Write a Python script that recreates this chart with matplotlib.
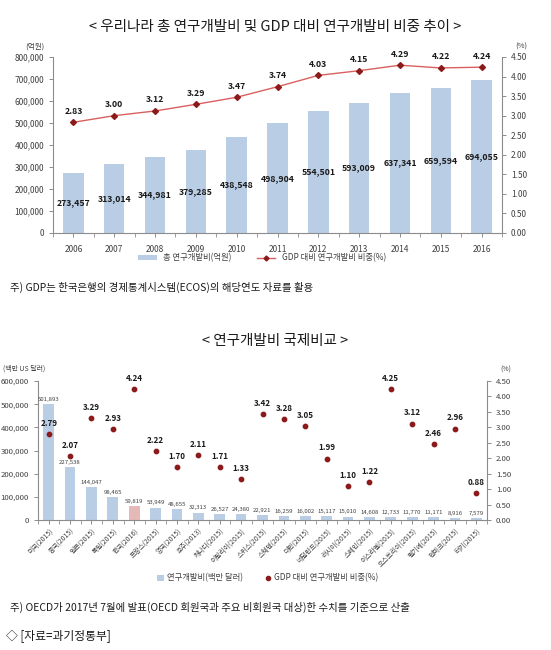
import matplotlib
matplotlib.use('Agg')
import matplotlib.pyplot as plt
from matplotlib.lines import Line2D
from matplotlib.patches import Patch

plt.rcParams['font.family'] = ['Noto Sans CJK KR', 'DejaVu Sans']

# chart 1 data: 총 연구개발비 추이
years = ['2006', '2007', '2008', '2009', '2010', '2011', '2012', '2013', '2014', '2015', '2016']
rnd_total = [273457, 313014, 344981, 379285, 438548, 498904, 554501, 593009, 637341, 659594, 694055]
rnd_gdp_ratio = [2.83, 3.00, 3.12, 3.29, 3.47, 3.74, 4.03, 4.15, 4.29, 4.22, 4.24]

# chart 2 data: 국제비교
countries = ['미국(2015)', '중국(2015)', '일본(2015)', '독일(2015)', '한국(2016)', '프랑스(2015)',
             '영국(2015)', '호주(2013)', '캐나다(2015)', '이탈리아(2015)', '스위스(2015)',
             '스웨덴(2015)', '대만(2015)', '네덜란드(2015)', '러시아(2015)', '스페인(2015)',
             '이스라엘(2015)', '오스트리아(2015)', '벨기에(2015)', '덴마크(2015)', '터키(2015)']
country_rnd = [501893, 227538, 144047, 98465, 59819, 53949, 48655, 32313, 26527, 24380, 22921,
               16259, 16002, 15117, 15010, 14608, 12733, 11770, 11171, 8916, 7579]
country_ratio = [2.79, 2.07, 3.29, 2.93, 4.24, 2.22, 1.70, 2.11, 1.71, 1.33, 3.42,
                 3.28, 3.05, 1.99, 1.10, 1.22, 4.25, 3.12, 2.46, 2.96, 0.88]

BAR = '#b9cde5'
KOREA = '#e6b9b8'
LINE = '#d9605e'
DOT = '#8b1a1a'
AX = '#8c8c8c'
TXT = '#404040'

W, H = 551, 650
fig = plt.figure(figsize=(W / 100, H / 100), dpi=100)
fig.patch.set_facecolor('white')


def px_axes(x0, y0, x1, y1):
    return fig.add_axes([x0 / W, 1 - y1 / H, (x1 - x0) / W, (y1 - y0) / H])


def style(ax, ax2):
    for a in (ax, ax2):
        a.spines['top'].set_visible(False)
        for s in ('left', 'right', 'bottom'):
            a.spines[s].set_color(AX)
            a.spines[s].set_linewidth(0.8)
        a.tick_params(colors=AX, labelcolor=TXT, labelsize=6, length=3, width=0.7)
    ax.spines['right'].set_visible(False)
    ax2.spines['left'].set_visible(False)
    ax2.spines['bottom'].set_visible(False)


# ---------------- chart 1 ----------------
fig.text(0.5, 1 - 27 / H, '< 우리나라 총 연구개발비 및 GDP 대비 연구개발비 비중 추이 >',
         ha='center', va='center', fontsize=10.5, color='#1a1a1a')

ax = px_axes(53, 57, 502, 233)
ax2 = ax.twinx()
x = range(len(years))
ax.bar(x, rnd_total, width=0.5, color=BAR, zorder=2)
for i, v in enumerate(rnd_total):
    ax.text(i, v / 2, f'{v:,}', ha='center', va='center', fontsize=6.3,
            fontweight='bold', color='#1a1a1a', zorder=4)
ax.set_ylim(0, 800000)
ax.set_yticks(range(0, 800001, 100000))
ax.set_yticklabels([f'{v:,}' for v in range(0, 800001, 100000)])
ax.set_xlim(-0.5, len(years) - 0.5)
ax.set_xticks(list(x))
ax.set_xticklabels(years)
ax.set_xticks([i + 0.5 for i in range(-1, len(years))], minor=True)
ax.tick_params(axis='x', which='major', length=0, pad=6)
ax.tick_params(axis='x', which='minor', length=3, color=AX)

ax2.plot(x, rnd_gdp_ratio, color=LINE, lw=1.0, marker='D', ms=3,
         mfc=DOT, mec=DOT, zorder=3)
for i, v in enumerate(rnd_gdp_ratio):
    ax2.text(i, v + 0.17, f'{v:.2f}', ha='center', va='bottom', fontsize=6.3,
             fontweight='bold', color='#1a1a1a')
ax2.set_ylim(0, 4.5)
ax2.set_yticks([i * 0.5 for i in range(10)])
ax2.set_yticklabels([f'{i * 0.5:.2f}' for i in range(10)])
style(ax, ax2)
ax.text(-0.02, 1.06, '(억원)', transform=ax.transAxes, ha='right', va='center',
        fontsize=5.5, color=TXT)
ax2.text(1.03, 1.06, '(%)', transform=ax2.transAxes, ha='left', va='center',
         fontsize=5.5, color=TXT)

handles = [Patch(facecolor=BAR, edgecolor='none'),
           Line2D([0], [0], color=LINE, lw=1, marker='D', ms=2.5, mfc=DOT, mec=DOT)]
fig.legend(handles, ['총 연구개발비(억원)', 'GDP 대비 연구개발비 비중(%)'],
           loc='center', bbox_to_anchor=(262 / W, 1 - 258 / H), ncol=2, frameon=False,
           fontsize=6, handlelength=2.2, handleheight=0.6, columnspacing=3, labelcolor=TXT)

fig.text(10 / W, 1 - 287 / H, '주) GDP는 한국은행의 경제통계시스템(ECOS)의 해당연도 자료를 활용',
         ha='left', va='center', fontsize=7.5, color='#1a1a1a')

# ---------------- chart 2 ----------------
fig.text(0.5, 1 - 341 / H, '< 연구개발비 국제비교 >', ha='center', va='center',
         fontsize=10.5, color='#1a1a1a')

bx = px_axes(38, 381, 487, 520)
bx2 = bx.twinx()
x2 = range(len(countries))
colors = [KOREA if c.startswith('한국') else BAR for c in countries]
bx.bar(x2, country_rnd, width=0.5, color=colors, zorder=2)
for i, v in enumerate(country_rnd):
    bx.text(i, v + 9000, f'{v:,}', ha='center', va='bottom', fontsize=4.3, color=TXT)
bx.set_ylim(0, 600000)
bx.set_yticks(range(0, 600001, 100000))
bx.set_yticklabels([f'{v:,}' for v in range(0, 600001, 100000)])
bx.set_xlim(-0.5, len(countries) - 0.5)
bx.set_xticks(list(x2))
bx.set_xticklabels(countries, rotation=45, ha='right', rotation_mode='anchor')
bx.set_xticks([i + 0.5 for i in range(-1, len(countries))], minor=True)
bx.tick_params(axis='x', which='major', length=0, pad=2)
bx.tick_params(axis='x', which='minor', length=3, color=AX)

bx2.scatter(x2, country_ratio, s=10, color=DOT, zorder=3)
for i, v in enumerate(country_ratio):
    bx2.text(i, v + 0.2, f'{v:.2f}', ha='center', va='bottom', fontsize=5.8,
             fontweight='bold', color='#1a1a1a')
bx2.set_ylim(0, 4.5)
bx2.set_yticks([i * 0.5 for i in range(10)])
bx2.set_yticklabels([f'{i * 0.5:.2f}' for i in range(10)])
style(bx, bx2)
bx.tick_params(axis='x', labelsize=4.9)
bx.tick_params(axis='y', labelsize=5.6)
bx2.tick_params(axis='y', labelsize=5.6)
fig.text(3 / W, 1 - 369 / H, '(백만 US 달러)', ha='left', va='center',
         fontsize=5, color=TXT)
bx2.text(1.03, 1.08, '(%)', transform=bx2.transAxes, ha='left', va='center',
         fontsize=5, color=TXT)

handles2 = [Patch(facecolor=BAR, edgecolor='none'),
            Line2D([0], [0], color='none', marker='o', ms=3, mfc=DOT, mec=DOT)]
fig.legend(handles2, ['연구개발비(백만 달러)', 'GDP 대비 연구개발비 비중(%)'],
           loc='center', bbox_to_anchor=(268 / W, 1 - 578 / H), ncol=2, frameon=False,
           fontsize=6, handlelength=0.8, handleheight=0.7, handletextpad=0.4,
           columnspacing=2.5, labelcolor=TXT)

fig.text(10 / W, 1 - 607 / H,
         '주) OECD가 2017년 7월에 발표(OECD 회원국과 주요 비회원국 대상)한 수치를 기준으로 산출',
         ha='left', va='center', fontsize=7.5, color='#1a1a1a')
fig.text(6 / W, 1 - 636 / H, '◇ [자료=과기정통부]', ha='left', va='center',
         fontsize=8.5, color='#1a1a1a')

fig.savefig('out.png', dpi=100, facecolor='white')
